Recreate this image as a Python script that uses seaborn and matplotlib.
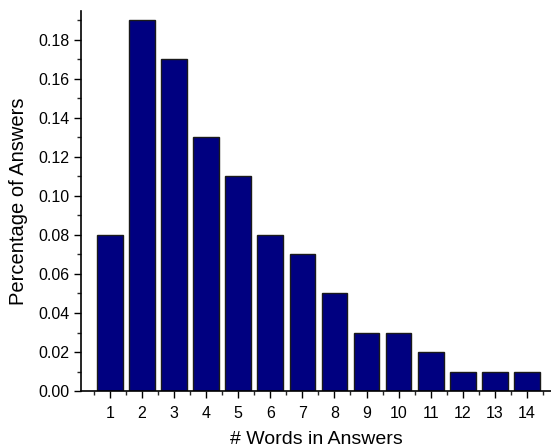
import numpy as np
import pandas as pd
import matplotlib
matplotlib.use('Agg')
import matplotlib.pyplot as plt
import seaborn as sns
from matplotlib.ticker import FixedLocator, MultipleLocator

# values
word_counts = ['1', '2', '3', '4', '5', '6', '7', '8', '9', '10', '11', '12', '13', '14']
pct_answers = [0.08, 0.19, 0.17, 0.13, 0.11, 0.08, 0.07, 0.05, 0.03, 0.03, 0.02, 0.01, 0.01, 0.01]
y_ticks = [0.00, 0.02, 0.04, 0.06, 0.08, 0.10, 0.12, 0.14, 0.16, 0.18]

df = pd.DataFrame({'words': word_counts, 'pct': pct_answers})

sns.set_style('ticks')
plt.rcParams['font.family'] = ['Liberation Sans', 'DejaVu Sans']

fig = plt.figure(figsize=(5.51, 4.48), dpi=100)
ax = fig.add_axes([0.147, 0.127, 0.853, 0.848])

sns.barplot(data=df, x='words', y='pct', color='#000080', saturation=1,
            edgecolor='#1a1a1a', linewidth=1, width=0.8, ax=ax)

ax.set_xlim(-0.9, 13.75)
ax.set_ylim(0, 0.1945)
ax.set_yticks(y_ticks)
ax.set_yticklabels([f'{v:.2f}' for v in y_ticks])
ax.yaxis.set_minor_locator(MultipleLocator(0.01))
ax.xaxis.set_minor_locator(FixedLocator(np.arange(-0.5, 14, 1.0)))

ax.tick_params(axis='both', which='major', direction='out', length=5, width=1, labelsize=11.5, colors='black')
ax.tick_params(axis='both', which='minor', direction='out', length=3, width=1)
ax.tick_params(axis='x', which='major', pad=6)

sns.despine(ax=ax)
for s in ['left', 'bottom']:
    ax.spines[s].set_linewidth(1.2)
    ax.spines[s].set_color('black')

ax.set_xlabel('# Words in Answers', fontsize=14, labelpad=7, color='black')
ax.set_ylabel('Percentage of Answers', fontsize=14.5, labelpad=7, color='black')

fig.savefig('out.png', dpi=100)
